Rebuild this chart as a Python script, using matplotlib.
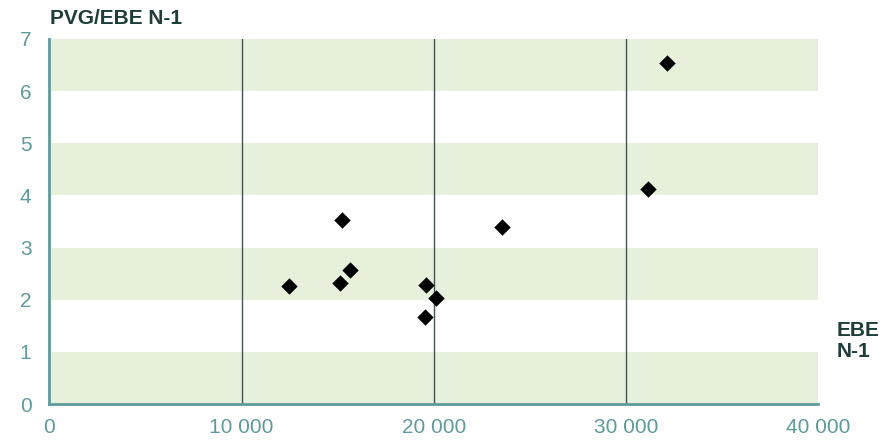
import matplotlib.pyplot as plt
import numpy as np

plt.rcParams['font.family'] = ['Liberation Sans', 'DejaVu Sans']

ebe = [12460, 15220, 15110, 15630, 19590, 20110, 19540, 23540, 31140, 32130]
pvg_ebe = [2.26, 3.53, 2.32, 2.57, 2.28, 2.03, 1.67, 3.39, 4.12, 6.54]

x_ticks = [0, 10000, 20000, 30000, 40000]
x_labels = ["0", "10 000", "20 000", "30 000", "40 000"]
y_ticks = [0, 1, 2, 3, 4, 5, 6, 7]

teal = "#5f9a9c"
dark = "#1f3d3a"
band = "#e6f0da"

fig = plt.figure(figsize=(8.87, 4.43), dpi=100)
ax = fig.add_axes([0.0558, 0.088, 0.8664, 0.824])

for y0 in [0, 2, 4, 6]:
    ax.axhspan(y0, y0 + 1, color=band, lw=0, zorder=0)
for xv in x_ticks[1:-1]:
    ax.axvline(xv, color="#3f5552", lw=1, zorder=1)

ax.scatter(ebe, pvg_ebe, marker="D", s=70, color="black", lw=0, zorder=3)

ax.set_xlim(0, 40000)
ax.set_ylim(0, 7)
ax.set_xticks(x_ticks)
ax.set_xticklabels(x_labels)
ax.set_yticks(y_ticks)
ax.tick_params(axis="both", length=0, labelcolor=teal, labelsize=15)
ax.tick_params(axis="x", pad=10)
ax.tick_params(axis="y", pad=13)

for s in ["top", "right"]:
    ax.spines[s].set_visible(False)
for s in ["left", "bottom"]:
    ax.spines[s].set_color(teal)
    ax.spines[s].set_linewidth(2)
    ax.spines[s].set_zorder(4)

fig.text(50 / 887, 1 - 18 / 443, "PVG/EBE N-1", fontsize=15, fontweight="bold",
         color=dark, ha="left", va="center")
fig.text(837 / 887, 1 - 341 / 443, "EBE\nN-1", fontsize=15, fontweight="bold",
         color=dark, ha="left", va="center", linespacing=1.15)

plt.savefig("out.png", dpi=100)
